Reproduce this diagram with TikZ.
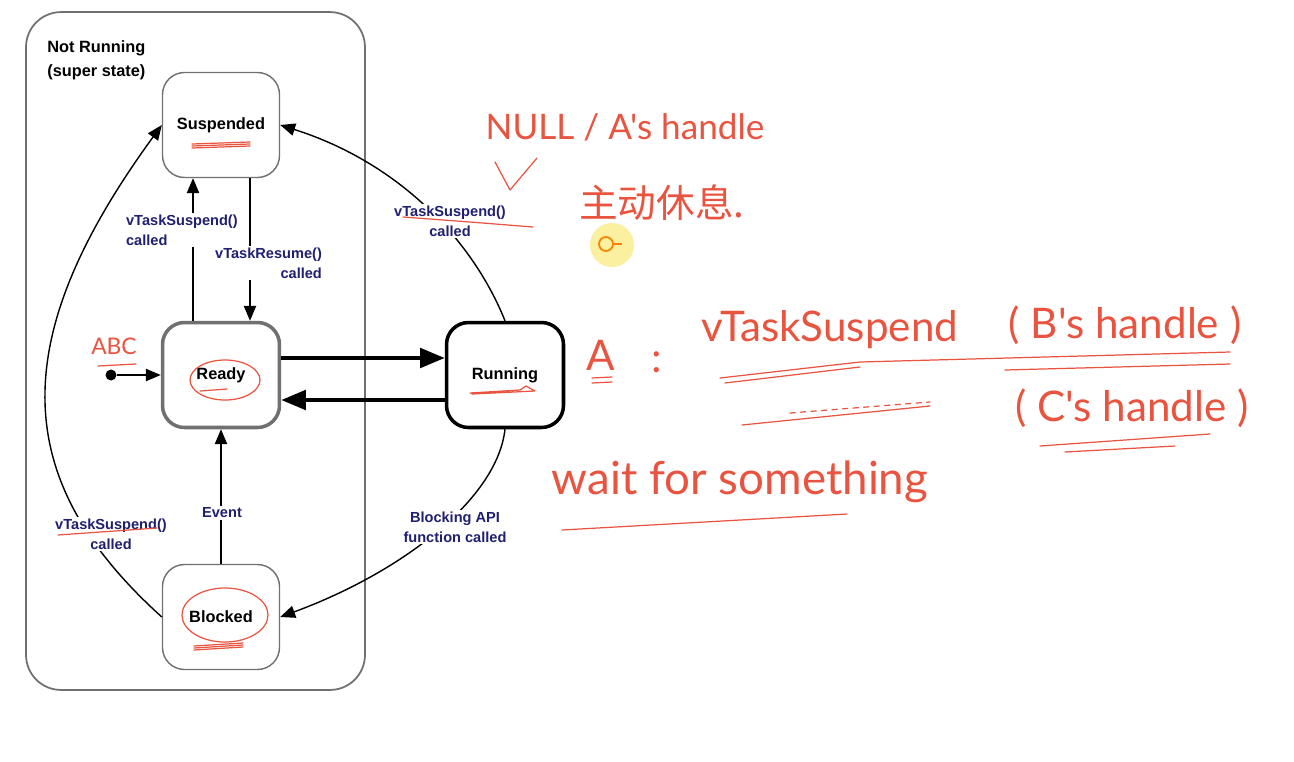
\documentclass[tikz,border=0pt]{standalone}
\usepackage{fontspec}
\setmainfont{Liberation Sans}
\newfontfamily\hand{Lato}
\newfontfamily\cjk{Noto Sans CJK SC}
\usepackage{tikz}
\usetikzlibrary{arrows.meta}
\definecolor{navy}{RGB}{32,32,112}
\definecolor{pen}{RGB}{232,84,64}
\definecolor{frame}{RGB}{112,112,112}
\definecolor{marker}{RGB}{250,240,160}

\begin{document}
\begin{tikzpicture}[x=0.02cm,y=-0.02cm,
  state/.style={rectangle, rounded corners=0.44cm, draw=frame, line width=0.8pt, fill=white,
    minimum width=2.34cm, minimum height=2.1cm, font=\fontsize{9.3}{11}\selectfont\bfseries},
  lbl/.style={fill=white, text=navy, inner sep=1pt, align=center,
    font=\fontsize{8.3}{11.3}\selectfont\bfseries},
  arr/.style={-{Triangle[length=8.5pt,width=7pt]}, line width=0.8pt},
  fat/.style={-{Triangle[length=14pt,width=11pt]}, line width=2.3pt},
  ink/.style={pen, line width=0.7pt, line cap=round, line join=round},
  hw/.style={pen, inner sep=0pt, font=\hand\fontsize{24}{26}\selectfont}]
  \fill[white] (0,0) rectangle (1294,761);
  \useasboundingbox (0,0) rectangle (1294,761);
  % super state frame
  \node[draw=frame, line width=1pt, rounded corners=0.7cm, minimum width=6.78cm, minimum height=13.56cm] (notrunning) at (195.5,351) {};
  \node[anchor=north west, align=left, inner sep=0pt, font=\fontsize{9.3}{14}\selectfont\bfseries] (nrtitle) at (47,40) {Not Running\\(super state)};
  % states
  \node[state] (suspended) at (221,125) {Suspended};
  \node[state, line width=2pt] (ready) at (221,375) {Ready};
  \node[state, draw=black, line width=2pt] (running) at (505,375) {Running};
  \node[state] (blocked) at (221,617) {Blocked};
  \node[circle, fill=black, inner sep=0pt, minimum size=0.22cm] (init) at (111,375) {};
  % transitions
  \draw[arr] (init) -- (ready);
  \draw[arr] ([xshift=-0.56cm]ready.north) -- ([xshift=-0.56cm]suspended.south);
  \draw[arr] ([xshift=0.58cm]suspended.south) -- ([xshift=0.58cm]ready.north);
  \draw[fat] ([yshift=0.34cm]ready.east) -- ([yshift=0.34cm]running.west);
  \draw[fat] ([yshift=-0.5cm]running.west) -- ([yshift=-0.5cm]ready.east);
  \draw[arr] (blocked) -- (ready);
  \draw[arr] (running.north) .. controls (473,241) and (400,163) .. (suspended.east);
  \draw[arr] (running.south) .. controls (497,500) and (400,573) .. (blocked.east);
  \draw[arr] (blocked.west) .. controls (10,480) and (5,340) .. (suspended.west);
  % labels
  \node[lbl, align=left, anchor=west] (lsusp) at (124,230) {vTaskSuspend()\\called};
  \node[lbl, align=right, anchor=east] (lresume) at (324,263) {vTaskResume()\\called};
  \node[lbl] (lsusprun) at (450,221) {vTaskSuspend()\\called};
  \node[lbl] (lblock) at (455,527) {Blocking API\\function called};
  \node[lbl] (levent) at (222,513) {Event};
  \node[lbl] (lsuspblk) at (111,534) {vTaskSuspend()\\called};
  % hand notes on the diagram
  \foreach \d in {0,2,4} \draw[ink] (192,144+\d) -- (250,142+\d);
  \draw[ink] (470,393) -- (520,390) -- (526,386) -- (535,391) -- (472,394);
  \draw[ink] (225,380) ellipse [x radius=35, y radius=20];
  \draw[ink] (200,391) -- (227,389);
  \draw[ink] (225,615) ellipse [x radius=43, y radius=27];
  \foreach \d in {0,2,4} \draw[ink] (194,646+\d) -- (243,643+\d);
  \draw[ink] (403,217) .. controls (470,222) .. (533,227);
  \draw[ink] (58,535) -- (157,528);
  \node[hw, font=\hand\fontsize{13}{14}\selectfont] (annabc) at (114,346) {ABC};
  \draw[ink] (98,366) -- (136,364);
  % hand notes on the right
  \node[hw, font=\hand\fontsize{20}{22}\selectfont] (annnull) at (625,127) {NULL / A's handle};
  \draw[ink] (495,162) -- (510,190) -- (537,158);
  \node[pen, inner sep=0pt, font=\cjk\fontsize{22}{24}\selectfont] (annrest) at (662,203) {主动休息.};
  \fill[marker] (612,245) circle (22);
  \draw[orange, line width=1pt] (606,244) circle (7);
  \draw[orange, line width=0.6pt] (612,244) -- (622,244);
  \node[hw] (anna) at (601,355) {A};
  \draw[ink] (592,378) -- (612,377);
  \draw[ink] (592,383) -- (612,382);
  \node[hw] (anncolon) at (657,362) {:};
  \node[hw] (annvts) at (830,330) {vTaskSuspend};
  \node[hw] (annb) at (1125,325) {( B's handle )};
  \draw[ink] (720,378) -- (860,362) -- (1230,352);
  \draw[ink] (725,383) -- (860,367);
  \draw[ink] (1005,370) -- (1230,364);
  \draw[ink] (742,425) -- (930,406);
  \draw[ink, dashed] (790,413) -- (930,402);
  \node[hw] (annc) at (1132,408) {( C's handle )};
  \draw[ink] (1040,446) -- (1210,434);
  \draw[ink] (1065,452) -- (1175,446);
  \node[hw, font=\hand\fontsize{26}{28}\selectfont] (annwait) at (740,482) {wait for something};
  \draw[ink] (562,530) -- (847,514);
\end{tikzpicture}
\end{document}
